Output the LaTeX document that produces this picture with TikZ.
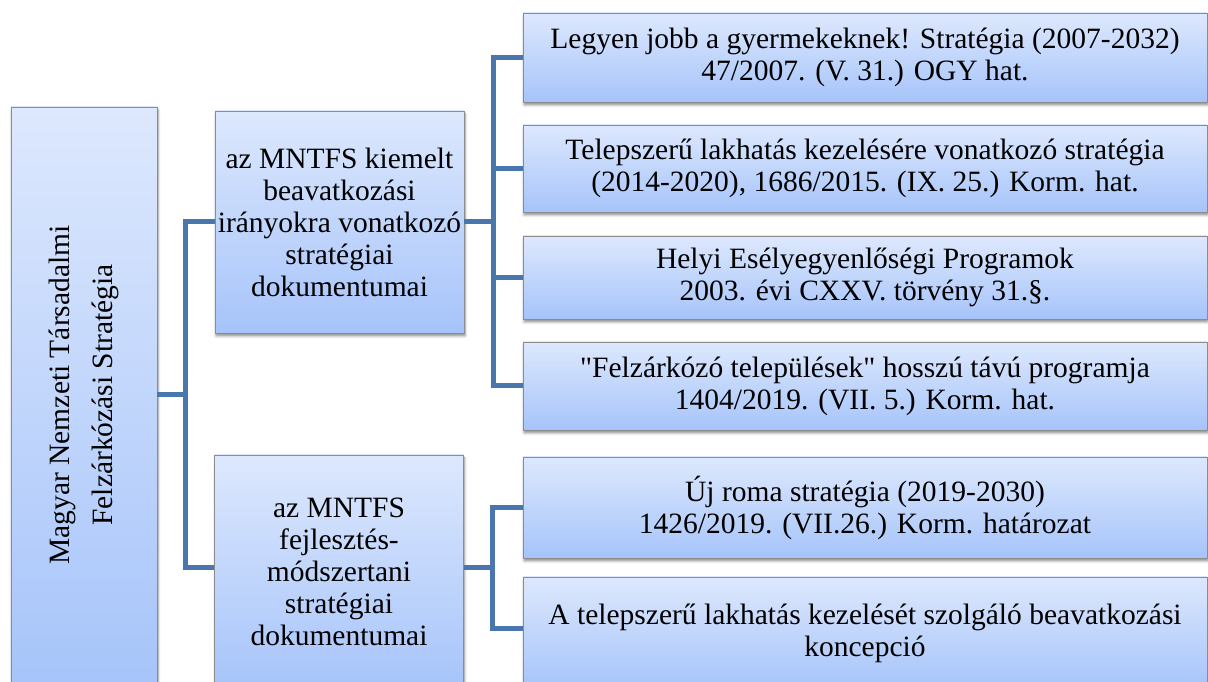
\documentclass[tikz,border=0pt]{standalone}
\usepackage{fontspec}
\setmainfont{Liberation Serif}
\newfontfamily\plainserif{Liberation Serif}
\usetikzlibrary{shadows.blur}
\definecolor{boxtop}{HTML}{DDE8FD}
\definecolor{boxbot}{HTML}{A6C4FA}
\definecolor{edgecol}{HTML}{4A76AE}
\newcommand{\strq}{{\plainserif\symbol{34}}}
\tikzset{
    boxn/.style = {rectangle, draw=gray!90, line width=0.8pt, top color=boxtop, bottom color=boxbot,
                   align=center, inner sep=0pt, font=\fontsize{29.5}{32}\selectfont,
                   blur shadow={shadow xshift=1pt, shadow yshift=-3pt, shadow blur steps=6, shadow blur radius=2.5pt, shadow opacity=45}},
    rootbox/.style = {boxn, minimum width=146pt, minimum height=584pt},
    midbox/.style = {boxn, minimum width=249pt},
    docbox/.style = {boxn, minimum width=684pt},
    rootlabel/.style = {rotate=90, align=center, font=\fontsize{29.5}{43}\selectfont},
    edgeb/.style = {line width=5pt, draw=edgecol}
}
\begin{document}
\begin{tikzpicture}[x=1pt,y=1pt]
\useasboundingbox (0,0) rectangle (1208,682);
%
\node[rootbox] at (84, 283) (root) {};
\node[rootlabel] at (84, 287) (roottext) {Magyar Nemzeti Társadalmi\\Felzárkózási Stratégia};
\node[midbox, minimum height=222pt] at (339.5, 460) (kiemelt) {az MNTFS kiemelt\\beavatkozási\\irányokra vonatkozó\\stratégiai\\dokumentumai};
\node[midbox, minimum height=234pt] at (339, 110) (fejl) {az MNTFS\\fejlesztés-\\módszertani\\stratégiai\\dokumentumai};
%
\node[docbox, minimum height=89pt] at (865, 624.5) (gyerm) {Legyen jobb a gyermekeknek! Stratégia (2007-2032)\\47/2007. (V. 31.) OGY hat.};
\node[docbox, minimum height=87pt] at (865, 513.5) (telep) {Telepszerű lakhatás kezelésére vonatkozó stratégia\\(2014-2020), 1686/2015. (IX. 25.) Korm. hat.};
\node[docbox, minimum height=83pt] at (865, 404.5) (helyi) {Helyi Esélyegyenlőségi Programok\\2003. évi CXXV. törvény 31.§.};
\node[docbox, minimum height=88pt] at (865, 296) (felz) {\strq Felzárkózó települések\strq{} hosszú távú programja\\1404/2019. (VII. 5.) Korm. hat.};
\node[docbox, minimum height=101pt] at (865, 174.5) (roma) {Új roma stratégia (2019-2030)\\1426/2019. (VII.26.) Korm. határozat};
\node[docbox, minimum height=112pt] at (865, 49) (konc) {A telepszerű lakhatás kezelését szolgáló beavatkozási\\koncepció};
%
\draw[edgeb] (root.east |- roottext) -- ++(28,0) |- (kiemelt.west);
\draw[edgeb] (root.east |- roottext) -- ++(28,0) |- (fejl.west |- 0,114);
\foreach \d in {gyerm, telep, helyi, felz}
    \draw[edgeb] (kiemelt.east) -- ++(29,0) |- (\d.west);
\draw[edgeb] (fejl.east |- 0,114) -- ++(29,0) |- (roma.west);
\draw[edgeb] (fejl.east |- 0,114) -- ++(29,0) |- (konc.west |- 0,53);

\end{tikzpicture}
\end{document}
